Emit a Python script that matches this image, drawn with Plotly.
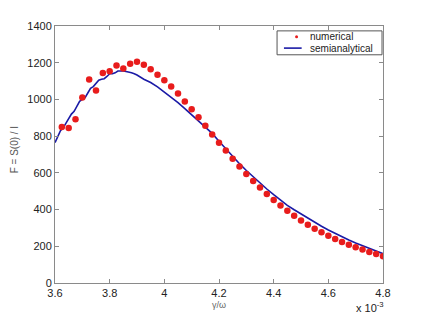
import plotly.graph_objects as go

# numerical data (dots)
num_x = [3.625, 3.65, 3.675, 3.7, 3.725, 3.75, 3.775, 3.8, 3.825, 3.85, 3.875, 3.9,
         3.925, 3.95, 3.975, 4.0, 4.025, 4.05, 4.075, 4.1, 4.125, 4.15, 4.175, 4.2,
         4.225, 4.25, 4.275, 4.3, 4.325, 4.35, 4.375, 4.4, 4.425, 4.45, 4.475, 4.5,
         4.525, 4.55, 4.575, 4.6, 4.625, 4.65, 4.675, 4.7, 4.725, 4.75, 4.775, 4.8]
num_y = [850, 845, 892, 1011, 1108, 1049, 1144, 1153, 1185, 1169, 1195, 1205,
         1189, 1164, 1135, 1105, 1070, 1032, 989, 946, 903, 857, 809, 764,
         722, 677, 634, 594, 556, 520, 485, 452, 422, 393, 366, 341,
         317, 296, 276, 258, 240, 223, 209, 195, 182, 169, 158, 146]

# semianalytical curve
sa_x = [3.6, 3.61, 3.62, 3.63, 3.64, 3.65, 3.66, 3.67, 3.68, 3.69, 3.7, 3.71, 3.72,
        3.73, 3.74, 3.75, 3.76, 3.77, 3.78, 3.79, 3.8, 3.81, 3.82, 3.83, 3.84, 3.85,
        3.86, 3.87, 3.88, 3.89, 3.9, 3.925, 3.95, 3.975, 4.0, 4.025, 4.05, 4.075, 4.1,
        4.125, 4.15, 4.175, 4.2, 4.225, 4.25, 4.275, 4.3, 4.325, 4.35, 4.375, 4.4,
        4.425, 4.45, 4.475, 4.5, 4.525, 4.55, 4.575, 4.6, 4.625, 4.65, 4.675, 4.7,
        4.725, 4.75, 4.775, 4.8]
sa_y = [765, 800, 830, 845, 870, 895, 920, 935, 960, 990, 1000, 1010, 1035,
        1060, 1070, 1085, 1105, 1110, 1113, 1125, 1140, 1140, 1145, 1155, 1157, 1155,
        1152, 1150, 1145, 1140, 1133, 1110, 1092, 1068, 1040, 1012, 982, 950, 917,
        884, 850, 815, 772, 730, 689, 650, 613, 578, 544, 512, 481,
        451, 423, 399, 376, 352, 330, 309, 289, 270, 251, 234, 218,
        202, 188, 174, 160]

x_ticks = [3.6, 3.8, 4.0, 4.2, 4.4, 4.6, 4.8]
x_tick_labels = ["3.6", "3.8", "4", "4.2", "4.4", "4.6", "4.8"]
y_ticks = [0, 200, 400, 600, 800, 1000, 1200, 1400]
legend_labels = ["numerical", "semianalytical"]

FONT = "Liberation Sans, Arial"
RED = "#e81c1c"
BLUE = "#1a1aa6"

fig = go.Figure()
fig.add_trace(go.Scatter(x=sa_x, y=sa_y, mode="lines", name=legend_labels[1],
                         line=dict(color=BLUE, width=1.6), showlegend=False))
fig.add_trace(go.Scatter(x=num_x, y=num_y, mode="markers", name=legend_labels[0],
                         marker=dict(color=RED, size=6.5), showlegend=False))

axis_common = dict(showgrid=False, zeroline=False, showline=True, linecolor="#8a8a8a",
                   linewidth=1, mirror="ticks", ticks="inside", ticklen=4,
                   tickcolor="#8a8a8a",
                   tickfont=dict(family=FONT, size=11, color="#222"))

# compact boxed legend (MATLAB style), in paper coordinates
legend_shapes = [
    dict(type="rect", xref="paper", yref="paper", x0=0.677, x1=0.997, y0=0.888, y1=0.981,
         line=dict(color="#555", width=1), fillcolor="white", layer="above"),
    dict(type="circle", xref="paper", yref="paper", x0=0.732, x1=0.741, y0=0.952, y1=0.964,
         line=dict(color=RED, width=0), fillcolor=RED, layer="above"),
    dict(type="line", xref="paper", yref="paper", x0=0.698, x1=0.752, y0=0.914, y1=0.914,
         line=dict(color=BLUE, width=1.6), layer="above"),
]

# page body has an 8px margin, so the figure is sized to fit inside it
fig.update_layout(
    width=416, height=310,
    margin=dict(l=47, r=41, t=16, b=35),
    paper_bgcolor="white", plot_bgcolor="white",
    showlegend=False,
    shapes=legend_shapes,
    xaxis=dict(range=[3.6, 4.8], tickvals=x_ticks, ticktext=x_tick_labels, **axis_common),
    yaxis=dict(range=[0, 1400], tickvals=y_ticks, **axis_common),
    annotations=[
        dict(text=legend_labels[0], xref="paper", yref="paper", x=0.771, y=0.958,
             showarrow=False, xanchor="left", yanchor="middle",
             font=dict(family=FONT, size=10, color="#222")),
        dict(text=legend_labels[1], xref="paper", yref="paper", x=0.771, y=0.914,
             showarrow=False, xanchor="left", yanchor="middle",
             font=dict(family=FONT, size=10, color="#222")),
        dict(text="γ/ω", xref="paper", yref="paper", x=0.5, y=-0.058, showarrow=False,
             xanchor="center", yanchor="top",
             font=dict(family=FONT, size=9, color="#666")),
        dict(text="x 10<sup>-3</sup>", xref="paper", yref="paper", x=1.01, y=-0.06,
             showarrow=False, xanchor="right", yanchor="top",
             font=dict(family=FONT, size=11, color="#222")),
        dict(text="F = S(0) / I", xref="paper", yref="paper", x=-0.125, y=0.52,
             showarrow=False, textangle=-90, xanchor="center", yanchor="middle",
             font=dict(family=FONT, size=10, color="#555")),
    ],
)

fig.write_html("out.html")
